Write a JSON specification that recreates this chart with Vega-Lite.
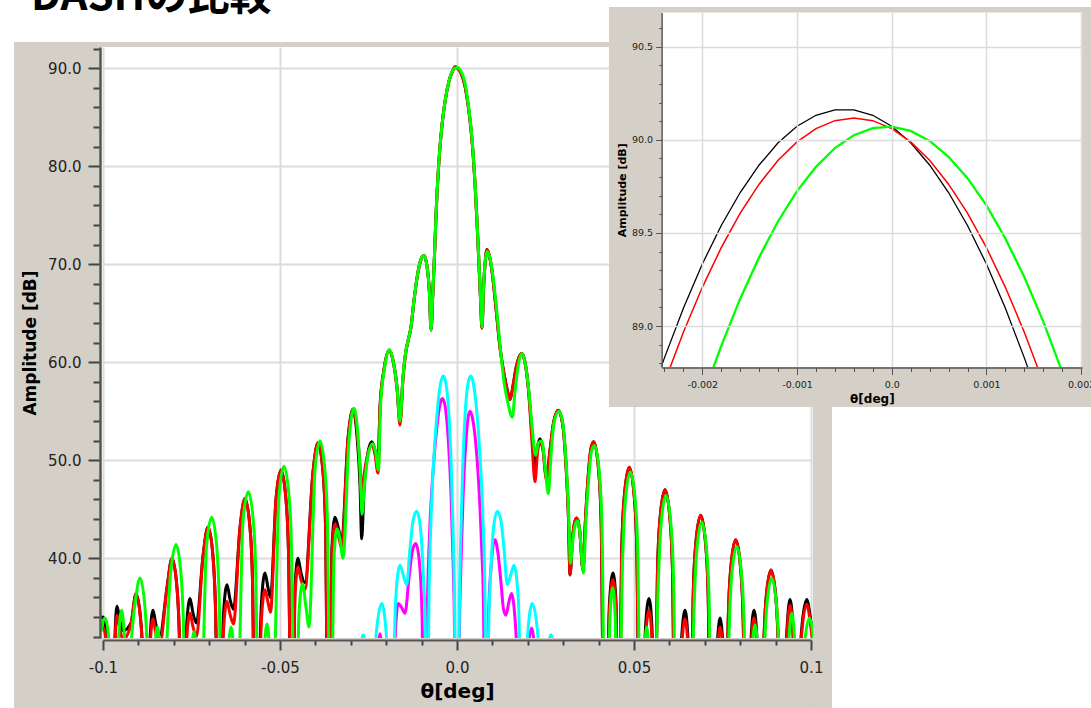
{
"$schema": "https://vega.github.io/schema/vega-lite/v6.json",
"width": 1091, "height": 708,
"autosize": {"type": "none"},
"padding": 0,
"background": "#ffffff",
"config": {"view": {"stroke": null}, "axis": {"labelFont": "DejaVu Sans", "titleFont": "DejaVu Sans"}},
"datasets": {
"mk": [{"x":-0.10056,"y":33.9},{"x":-0.1,"y":34},{"x":-0.09873,"y":31},{"x":-0.09788,"y":25.7},{"x":-0.09718,"y":15},{"x":-0.09661,"y":32.1},{"x":-0.09605,"y":35.1},{"x":-0.0952,"y":33.6},{"x":-0.09435,"y":32.6},{"x":-0.09209,"y":33.4},{"x":-0.09068,"y":36.4},{"x":-0.08927,"y":33.4},{"x":-0.08856,"y":28.1},{"x":-0.08771,"y":15},{"x":-0.08672,"y":31.7},{"x":-0.08588,"y":34.7},{"x":-0.08503,"y":33.2},{"x":-0.0839,"y":32.2},{"x":-0.08192,"y":37},{"x":-0.08051,"y":40},{"x":-0.0791,"y":37},{"x":-0.07839,"y":31.7},{"x":-0.07754,"y":15},{"x":-0.07641,"y":32.9},{"x":-0.07542,"y":35.9},{"x":-0.07458,"y":34.4},{"x":-0.07359,"y":33.4},{"x":-0.07175,"y":40.2},{"x":-0.07034,"y":43.2},{"x":-0.06893,"y":40.2},{"x":-0.06822,"y":34.9},{"x":-0.06723,"y":15},{"x":-0.06596,"y":34.3},{"x":-0.06497,"y":37.3},{"x":-0.06412,"y":35.8},{"x":-0.06314,"y":34.8},{"x":-0.0613,"y":43.1},{"x":-0.05989,"y":46.1},{"x":-0.05847,"y":43.1},{"x":-0.05777,"y":37.8},{"x":-0.05692,"y":15},{"x":-0.05523,"y":35.5},{"x":-0.05424,"y":38.5},{"x":-0.05339,"y":37},{"x":-0.05268,"y":36},{"x":-0.05113,"y":46},{"x":-0.04972,"y":49},{"x":-0.04831,"y":46},{"x":-0.0476,"y":40.7},{"x":-0.04661,"y":15},{"x":-0.04576,"y":37},{"x":-0.04492,"y":40},{"x":-0.04407,"y":38.5},{"x":-0.04294,"y":37.5},{"x":-0.04068,"y":48.8},{"x":-0.03927,"y":51.8},{"x":-0.03785,"y":48.8},{"x":-0.03715,"y":43.5},{"x":-0.0363,"y":15},{"x":-0.03531,"y":41.2},{"x":-0.03446,"y":44.2},{"x":-0.03347,"y":43},{"x":-0.03257,"y":41.7},{"x":-0.03079,"y":52.2},{"x":-0.02938,"y":55.2},{"x":-0.02825,"y":52.5},{"x":-0.0274,"y":47.5},{"x":-0.02692,"y":42},{"x":-0.02627,"y":47},{"x":-0.02528,"y":50.5},{"x":-0.0241,"y":51.9},{"x":-0.02316,"y":51},{"x":-0.02232,"y":49},{"x":-0.02175,"y":55.5},{"x":-0.02062,"y":59.3},{"x":-0.01921,"y":61.2},{"x":-0.01808,"y":60.2},{"x":-0.01695,"y":57.5},{"x":-0.0161,"y":54},{"x":-0.01525,"y":58.5},{"x":-0.01441,"y":61.2},{"x":-0.01376,"y":62.3},{"x":-0.01299,"y":63.6},{"x":-0.01215,"y":66.3},{"x":-0.01116,"y":68.9},{"x":-0.01017,"y":70.5},{"x":-0.00932,"y":70.9},{"x":-0.00847,"y":69.8},{"x":-0.00777,"y":67},{"x":-0.00734,"y":63.3},{"x":-0.00678,"y":67.5},{"x":-0.00636,"y":70.9},{"x":-0.00593,"y":75},{"x":-0.00537,"y":79},{"x":-0.0048,"y":82},{"x":-0.00424,"y":84.2},{"x":-0.00339,"y":86.6},{"x":-0.00226,"y":88.7},{"x":-0.00113,"y":89.8},{"x":-0.0005,"y":90.16},{"x":0,"y":90.07},{"x":0.00113,"y":89.5},{"x":0.00226,"y":88.2},{"x":0.00311,"y":86.3},{"x":0.00395,"y":83.8},{"x":0.00452,"y":81.4},{"x":0.00508,"y":78.3},{"x":0.00565,"y":74.3},{"x":0.00621,"y":70},{"x":0.00664,"y":66.5},{"x":0.00706,"y":63.5},{"x":0.00749,"y":67.5},{"x":0.00791,"y":70},{"x":0.00847,"y":71.5},{"x":0.00918,"y":70.8},{"x":0.00989,"y":69.3},{"x":0.01102,"y":65.5},{"x":0.01215,"y":61.5},{"x":0.01328,"y":58.8},{"x":0.01412,"y":57.3},{"x":0.01497,"y":56.2},{"x":0.01582,"y":57.6},{"x":0.01667,"y":59.4},{"x":0.01751,"y":60.5},{"x":0.01828,"y":60.9},{"x":0.01921,"y":60},{"x":0.0202,"y":57.2},{"x":0.02119,"y":52.8},{"x":0.02203,"y":49.5},{"x":0.02274,"y":51.4},{"x":0.02345,"y":52.2},{"x":0.02429,"y":51.2},{"x":0.02528,"y":48.2},{"x":0.02627,"y":51},{"x":0.02726,"y":53.8},{"x":0.02862,"y":55.1},{"x":0.0298,"y":53.8},{"x":0.03079,"y":49.5},{"x":0.0315,"y":44},{"x":0.03192,"y":38.3},{"x":0.03263,"y":42},{"x":0.03319,"y":43.6},{"x":0.03381,"y":44.1},{"x":0.03461,"y":43},{"x":0.03559,"y":38.8},{"x":0.0363,"y":44},{"x":0.03715,"y":48.8},{"x":0.03785,"y":51.2},{"x":0.03862,"y":51.9},{"x":0.04003,"y":48.9},{"x":0.04073,"y":43.6},{"x":0.04167,"y":15},{"x":0.04308,"y":35.5},{"x":0.04407,"y":38.5},{"x":0.04492,"y":35.5},{"x":0.04562,"y":15},{"x":0.04655,"y":41},{"x":0.04726,"y":46.3},{"x":0.04867,"y":49.3},{"x":0.05008,"y":46.3},{"x":0.05079,"y":41},{"x":0.0517,"y":15},{"x":0.05325,"y":32.9},{"x":0.05424,"y":35.9},{"x":0.05508,"y":32.9},{"x":0.05579,"y":15},{"x":0.05664,"y":38.7},{"x":0.05734,"y":44},{"x":0.05876,"y":47},{"x":0.06017,"y":44},{"x":0.06088,"y":38.7},{"x":0.06172,"y":15},{"x":0.06342,"y":31.7},{"x":0.06441,"y":34.7},{"x":0.06525,"y":31.7},{"x":0.06596,"y":15},{"x":0.06672,"y":36.1},{"x":0.06743,"y":41.4},{"x":0.06884,"y":44.4},{"x":0.07025,"y":41.4},{"x":0.07096,"y":36.1},{"x":0.07175,"y":15},{"x":0.07345,"y":30.9},{"x":0.07429,"y":33.9},{"x":0.07514,"y":30.9},{"x":0.07585,"y":15},{"x":0.07661,"y":33.6},{"x":0.07732,"y":38.9},{"x":0.07873,"y":41.9},{"x":0.08014,"y":38.9},{"x":0.08085,"y":33.6},{"x":0.08164,"y":15},{"x":0.08305,"y":31.7},{"x":0.0839,"y":34.7},{"x":0.08475,"y":31.7},{"x":0.08559,"y":15},{"x":0.08658,"y":30.5},{"x":0.08729,"y":35.8},{"x":0.0887,"y":38.8},{"x":0.09011,"y":35.8},{"x":0.09082,"y":30.5},{"x":0.09167,"y":15},{"x":0.09322,"y":32.8},{"x":0.09407,"y":35.8},{"x":0.09492,"y":32.8},{"x":0.09576,"y":15},{"x":0.09661,"y":27.5},{"x":0.09737,"y":32.8},{"x":0.09879,"y":35.8},{"x":0.09972,"y":34.2},{"x":0.10056,"y":31.5}],
"mr": [{"x":-0.10056,"y":32.8},{"x":-0.1,"y":33},{"x":-0.09873,"y":30},{"x":-0.09788,"y":24.7},{"x":-0.09718,"y":15},{"x":-0.09661,"y":31.2},{"x":-0.09605,"y":34.2},{"x":-0.0952,"y":32.7},{"x":-0.09435,"y":31.7},{"x":-0.09209,"y":33.3},{"x":-0.09068,"y":36.3},{"x":-0.08927,"y":33.3},{"x":-0.08856,"y":28},{"x":-0.08771,"y":15},{"x":-0.08672,"y":30.8},{"x":-0.08588,"y":33.8},{"x":-0.08503,"y":32.3},{"x":-0.0839,"y":31.3},{"x":-0.08192,"y":37},{"x":-0.08051,"y":40},{"x":-0.0791,"y":37},{"x":-0.07839,"y":31.7},{"x":-0.07754,"y":15},{"x":-0.07641,"y":31.4},{"x":-0.07542,"y":34.4},{"x":-0.07458,"y":33},{"x":-0.07359,"y":32},{"x":-0.07175,"y":40.2},{"x":-0.07034,"y":43.2},{"x":-0.06893,"y":40.2},{"x":-0.06822,"y":34.9},{"x":-0.06723,"y":15},{"x":-0.06596,"y":32.6},{"x":-0.06497,"y":35.6},{"x":-0.06412,"y":34.3},{"x":-0.06314,"y":33.3},{"x":-0.0613,"y":43.1},{"x":-0.05989,"y":46.1},{"x":-0.05847,"y":43.1},{"x":-0.05777,"y":37.8},{"x":-0.05692,"y":15},{"x":-0.05523,"y":33.8},{"x":-0.05424,"y":36.8},{"x":-0.05339,"y":35.5},{"x":-0.05268,"y":34.5},{"x":-0.05113,"y":46},{"x":-0.04972,"y":49},{"x":-0.04831,"y":46},{"x":-0.0476,"y":40.7},{"x":-0.04661,"y":15},{"x":-0.04576,"y":36.1},{"x":-0.04492,"y":39.1},{"x":-0.04407,"y":37.8},{"x":-0.04294,"y":36.8},{"x":-0.04068,"y":48.8},{"x":-0.03927,"y":51.8},{"x":-0.03785,"y":48.8},{"x":-0.03715,"y":43.5},{"x":-0.0363,"y":15},{"x":-0.03531,"y":40.5},{"x":-0.03446,"y":43.5},{"x":-0.03347,"y":42.3},{"x":-0.03257,"y":41},{"x":-0.03079,"y":52.2},{"x":-0.02938,"y":55.2},{"x":-0.02825,"y":53},{"x":-0.0274,"y":49.5},{"x":-0.02692,"y":46.3},{"x":-0.02627,"y":48.5},{"x":-0.02528,"y":50.5},{"x":-0.0241,"y":51.5},{"x":-0.02316,"y":50.6},{"x":-0.02232,"y":48.7},{"x":-0.02175,"y":55.3},{"x":-0.02062,"y":59.2},{"x":-0.01921,"y":61.2},{"x":-0.01808,"y":60.2},{"x":-0.01695,"y":57.3},{"x":-0.0161,"y":53.6},{"x":-0.01525,"y":58.3},{"x":-0.01441,"y":61.1},{"x":-0.01376,"y":62.3},{"x":-0.01299,"y":63.6},{"x":-0.01215,"y":66.3},{"x":-0.01116,"y":68.9},{"x":-0.01017,"y":70.5},{"x":-0.00932,"y":70.9},{"x":-0.00847,"y":69.8},{"x":-0.00777,"y":67},{"x":-0.00734,"y":63.3},{"x":-0.00678,"y":67.5},{"x":-0.00636,"y":70.9},{"x":-0.00593,"y":75},{"x":-0.00537,"y":79},{"x":-0.0048,"y":82},{"x":-0.00424,"y":84.2},{"x":-0.00339,"y":86.6},{"x":-0.00226,"y":88.7},{"x":-0.00113,"y":89.8},{"x":-0.0005,"y":90.12},{"x":0,"y":90.06},{"x":0.00113,"y":89.5},{"x":0.00226,"y":88.2},{"x":0.00311,"y":86.3},{"x":0.00395,"y":83.8},{"x":0.00452,"y":81.4},{"x":0.00508,"y":78.3},{"x":0.00565,"y":74.3},{"x":0.00621,"y":70},{"x":0.00664,"y":66.5},{"x":0.00706,"y":63.5},{"x":0.00749,"y":67.5},{"x":0.00791,"y":70},{"x":0.00847,"y":71.5},{"x":0.00918,"y":70.8},{"x":0.00989,"y":69.3},{"x":0.01102,"y":65.5},{"x":0.01215,"y":61.5},{"x":0.01328,"y":58.8},{"x":0.01412,"y":57.3},{"x":0.01497,"y":56.2},{"x":0.01582,"y":57.6},{"x":0.01667,"y":59.4},{"x":0.01751,"y":60.5},{"x":0.01828,"y":60.9},{"x":0.01921,"y":60},{"x":0.0202,"y":57.2},{"x":0.02119,"y":51.8},{"x":0.02203,"y":47.8},{"x":0.02274,"y":50.8},{"x":0.02345,"y":51.9},{"x":0.02429,"y":51},{"x":0.02528,"y":48},{"x":0.02627,"y":51},{"x":0.02726,"y":53.8},{"x":0.02862,"y":55.1},{"x":0.0298,"y":53.8},{"x":0.03079,"y":49.5},{"x":0.0315,"y":44},{"x":0.03192,"y":38.3},{"x":0.03263,"y":42},{"x":0.03319,"y":43.6},{"x":0.03381,"y":44.1},{"x":0.03461,"y":43},{"x":0.03559,"y":38.8},{"x":0.0363,"y":44},{"x":0.03715,"y":48.8},{"x":0.03785,"y":51.2},{"x":0.03862,"y":51.9},{"x":0.04003,"y":48.9},{"x":0.04073,"y":43.6},{"x":0.04167,"y":15},{"x":0.04308,"y":34.8},{"x":0.04407,"y":37.8},{"x":0.04492,"y":34.8},{"x":0.04562,"y":15},{"x":0.04655,"y":41},{"x":0.04726,"y":46.3},{"x":0.04867,"y":49.3},{"x":0.05008,"y":46.3},{"x":0.05079,"y":41},{"x":0.0517,"y":15},{"x":0.05325,"y":31.7},{"x":0.05424,"y":34.7},{"x":0.05508,"y":31.7},{"x":0.05579,"y":15},{"x":0.05664,"y":38.7},{"x":0.05734,"y":44},{"x":0.05876,"y":47},{"x":0.06017,"y":44},{"x":0.06088,"y":38.7},{"x":0.06172,"y":15},{"x":0.06342,"y":30.8},{"x":0.06441,"y":33.8},{"x":0.06525,"y":30.8},{"x":0.06596,"y":15},{"x":0.06672,"y":36.1},{"x":0.06743,"y":41.4},{"x":0.06884,"y":44.4},{"x":0.07025,"y":41.4},{"x":0.07096,"y":36.1},{"x":0.07175,"y":15},{"x":0.07345,"y":30},{"x":0.07429,"y":33},{"x":0.07514,"y":30},{"x":0.07585,"y":15},{"x":0.07661,"y":33.6},{"x":0.07732,"y":38.9},{"x":0.07873,"y":41.9},{"x":0.08014,"y":38.9},{"x":0.08085,"y":33.6},{"x":0.08164,"y":15},{"x":0.08305,"y":30.9},{"x":0.0839,"y":33.9},{"x":0.08475,"y":30.9},{"x":0.08559,"y":15},{"x":0.08658,"y":30.5},{"x":0.08729,"y":35.8},{"x":0.0887,"y":38.8},{"x":0.09011,"y":35.8},{"x":0.09082,"y":30.5},{"x":0.09167,"y":15},{"x":0.09322,"y":32.2},{"x":0.09407,"y":35.2},{"x":0.09492,"y":32.2},{"x":0.09576,"y":15},{"x":0.09661,"y":27},{"x":0.09737,"y":32.3},{"x":0.09879,"y":35.3},{"x":0.09972,"y":33.7},{"x":0.10056,"y":31}],
"mg": [{"x":-0.10056,"y":32.5},{"x":-0.09944,"y":33.9},{"x":-0.09816,"y":30.9},{"x":-0.09746,"y":25.6},{"x":-0.09675,"y":15},{"x":-0.09562,"y":31.7},{"x":-0.09472,"y":34.7},{"x":-0.09393,"y":32},{"x":-0.09322,"y":28},{"x":-0.0911,"y":35},{"x":-0.08955,"y":38},{"x":-0.08814,"y":35},{"x":-0.08743,"y":29.7},{"x":-0.08658,"y":15},{"x":-0.08545,"y":30},{"x":-0.0846,"y":33},{"x":-0.08376,"y":30},{"x":-0.08305,"y":26},{"x":-0.08093,"y":38.4},{"x":-0.07938,"y":41.4},{"x":-0.07797,"y":38.4},{"x":-0.07726,"y":33.1},{"x":-0.07641,"y":15},{"x":-0.07514,"y":29.5},{"x":-0.07429,"y":32.5},{"x":-0.07345,"y":29.5},{"x":-0.0726,"y":20},{"x":-0.07076,"y":41.2},{"x":-0.06929,"y":44.2},{"x":-0.06788,"y":41.2},{"x":-0.06718,"y":35.9},{"x":-0.06624,"y":15},{"x":-0.06469,"y":30},{"x":-0.06384,"y":33},{"x":-0.06299,"y":30},{"x":-0.06215,"y":22},{"x":-0.06045,"y":43.8},{"x":-0.05895,"y":46.8},{"x":-0.05754,"y":43.8},{"x":-0.05684,"y":38.5},{"x":-0.05593,"y":15},{"x":-0.05452,"y":30.3},{"x":-0.05367,"y":33.3},{"x":-0.05282,"y":30.3},{"x":-0.05198,"y":25},{"x":-0.05028,"y":46.4},{"x":-0.04887,"y":49.4},{"x":-0.04746,"y":46.4},{"x":-0.04675,"y":41.1},{"x":-0.04576,"y":15},{"x":-0.04463,"y":34.4},{"x":-0.04364,"y":37.4},{"x":-0.04266,"y":35},{"x":-0.04181,"y":33},{"x":-0.04011,"y":49},{"x":-0.0387,"y":52},{"x":-0.03729,"y":48.9},{"x":-0.03658,"y":43.6},{"x":-0.03573,"y":15},{"x":-0.03475,"y":40},{"x":-0.0339,"y":43},{"x":-0.03305,"y":42},{"x":-0.0322,"y":40},{"x":-0.03051,"y":52},{"x":-0.0291,"y":55.3},{"x":-0.02797,"y":52.5},{"x":-0.02726,"y":48},{"x":-0.02684,"y":44.5},{"x":-0.02613,"y":47.5},{"x":-0.02514,"y":50.5},{"x":-0.02387,"y":51.7},{"x":-0.02302,"y":50.9},{"x":-0.02218,"y":49},{"x":-0.02161,"y":55.5},{"x":-0.02048,"y":59.4},{"x":-0.01907,"y":61.3},{"x":-0.01808,"y":60.2},{"x":-0.01695,"y":57.5},{"x":-0.0161,"y":54},{"x":-0.01525,"y":58.5},{"x":-0.01441,"y":61.2},{"x":-0.01376,"y":62.3},{"x":-0.01299,"y":63.6},{"x":-0.01215,"y":66.3},{"x":-0.01116,"y":68.9},{"x":-0.01017,"y":70.5},{"x":-0.00932,"y":70.9},{"x":-0.00847,"y":69.8},{"x":-0.00777,"y":67},{"x":-0.00734,"y":63.3},{"x":-0.00678,"y":67.5},{"x":-0.00636,"y":70.9},{"x":-0.00593,"y":75},{"x":-0.00537,"y":79},{"x":-0.0048,"y":82},{"x":-0.00424,"y":84.2},{"x":-0.00339,"y":86.6},{"x":-0.00226,"y":88.7},{"x":-0.00113,"y":89.8},{"x":-0.0005,"y":90.03},{"x":0,"y":90.07},{"x":0.00113,"y":89.7},{"x":0.00226,"y":88.5},{"x":0.00311,"y":86.5},{"x":0.00395,"y":84},{"x":0.00452,"y":81.6},{"x":0.00508,"y":78.5},{"x":0.00565,"y":74.5},{"x":0.00621,"y":70.2},{"x":0.00664,"y":66.7},{"x":0.00706,"y":63.6},{"x":0.00749,"y":67.5},{"x":0.00791,"y":70},{"x":0.00847,"y":71.3},{"x":0.00918,"y":70.8},{"x":0.00989,"y":69.5},{"x":0.01102,"y":66},{"x":0.01215,"y":61.8},{"x":0.01328,"y":58},{"x":0.01441,"y":55.8},{"x":0.01562,"y":54.4},{"x":0.01638,"y":57},{"x":0.01723,"y":59.5},{"x":0.01828,"y":60.9},{"x":0.01921,"y":60},{"x":0.0202,"y":57.4},{"x":0.02119,"y":53.5},{"x":0.02218,"y":50.5},{"x":0.02302,"y":51.8},{"x":0.02393,"y":52},{"x":0.02486,"y":49.5},{"x":0.02579,"y":46.6},{"x":0.02655,"y":50.5},{"x":0.0274,"y":53.8},{"x":0.02876,"y":55},{"x":0.0298,"y":54},{"x":0.03079,"y":50},{"x":0.0315,"y":45},{"x":0.03206,"y":39.5},{"x":0.03277,"y":42},{"x":0.03347,"y":43.5},{"x":0.03404,"y":43.8},{"x":0.03475,"y":42.5},{"x":0.03568,"y":38.5},{"x":0.03644,"y":44},{"x":0.03729,"y":48.5},{"x":0.03799,"y":50.9},{"x":0.03884,"y":51.5},{"x":0.04025,"y":48.5},{"x":0.04096,"y":43.2},{"x":0.04195,"y":15},{"x":0.04322,"y":34},{"x":0.04398,"y":37},{"x":0.04469,"y":34},{"x":0.04534,"y":15},{"x":0.04684,"y":40.5},{"x":0.04754,"y":45.8},{"x":0.04895,"y":48.8},{"x":0.05037,"y":45.8},{"x":0.05107,"y":40.5},{"x":0.05198,"y":15},{"x":0.05297,"y":30},{"x":0.05359,"y":33},{"x":0.05424,"y":30},{"x":0.05494,"y":15},{"x":0.05692,"y":38.1},{"x":0.05763,"y":43.4},{"x":0.05904,"y":46.4},{"x":0.06045,"y":43.4},{"x":0.06116,"y":38.1},{"x":0.06201,"y":15},{"x":0.06299,"y":25},{"x":0.06384,"y":31.5},{"x":0.06469,"y":25},{"x":0.06554,"y":15},{"x":0.06701,"y":35.4},{"x":0.06771,"y":40.7},{"x":0.06912,"y":43.7},{"x":0.07054,"y":40.7},{"x":0.07124,"y":35.4},{"x":0.07203,"y":15},{"x":0.07316,"y":25},{"x":0.07401,"y":31},{"x":0.07486,"y":25},{"x":0.07599,"y":15},{"x":0.07689,"y":32.9},{"x":0.0776,"y":38.2},{"x":0.07901,"y":41.2},{"x":0.08042,"y":38.2},{"x":0.08113,"y":32.9},{"x":0.08192,"y":15},{"x":0.08333,"y":30.2},{"x":0.08418,"y":33.2},{"x":0.08503,"y":30.2},{"x":0.08588,"y":15},{"x":0.08678,"y":29.7},{"x":0.08749,"y":35},{"x":0.0889,"y":38},{"x":0.09031,"y":35},{"x":0.09102,"y":29.7},{"x":0.09195,"y":15},{"x":0.0937,"y":31.4},{"x":0.09455,"y":34.4},{"x":0.0954,"y":31.4},{"x":0.09619,"y":15},{"x":0.09746,"y":26.6},{"x":0.09811,"y":30.9},{"x":0.09952,"y":33.9},{"x":0.10028,"y":33},{"x":0.10085,"y":31}],
"mm": [{"x":-0.02401,"y":15},{"x":-0.02288,"y":27},{"x":-0.02175,"y":32.3},{"x":-0.02062,"y":27},{"x":-0.01949,"y":15},{"x":-0.01836,"y":15},{"x":-0.01751,"y":31.5},{"x":-0.01658,"y":35.4},{"x":-0.01568,"y":35},{"x":-0.01469,"y":34.4},{"x":-0.01356,"y":38},{"x":-0.01257,"y":40.8},{"x":-0.01167,"y":41.5},{"x":-0.01073,"y":40},{"x":-0.00989,"y":34.5},{"x":-0.00918,"y":15},{"x":-0.00833,"y":36},{"x":-0.00763,"y":43.5},{"x":-0.00664,"y":49.5},{"x":-0.00565,"y":53.5},{"x":-0.0048,"y":55.7},{"x":-0.00415,"y":56.3},{"x":-0.00339,"y":55.6},{"x":-0.00254,"y":52.5},{"x":-0.00169,"y":46.5},{"x":-0.00113,"y":40},{"x":-0.00071,"y":33},{"x":-0.00028,"y":15},{"x":0.00028,"y":15},{"x":0.00071,"y":33},{"x":0.00113,"y":39.5},{"x":0.00169,"y":46},{"x":0.00254,"y":52},{"x":0.00311,"y":54.3},{"x":0.00367,"y":55},{"x":0.00438,"y":54.3},{"x":0.00523,"y":52},{"x":0.00607,"y":48},{"x":0.00692,"y":41.5},{"x":0.00749,"y":35},{"x":0.00805,"y":15},{"x":0.0089,"y":34},{"x":0.0096,"y":39},{"x":0.01017,"y":41.2},{"x":0.01073,"y":41.9},{"x":0.01158,"y":40.5},{"x":0.01243,"y":37.5},{"x":0.01314,"y":34.8},{"x":0.01384,"y":34.2},{"x":0.01469,"y":35.6},{"x":0.01545,"y":36.4},{"x":0.01624,"y":34.5},{"x":0.01695,"y":30},{"x":0.0178,"y":15},{"x":0.01949,"y":28},{"x":0.0211,"y":32.9},{"x":0.02232,"y":28},{"x":0.02345,"y":15}],
"mc": [{"x":-0.02881,"y":15},{"x":-0.02768,"y":29},{"x":-0.02647,"y":32.2},{"x":-0.02542,"y":29},{"x":-0.02429,"y":15},{"x":-0.02288,"y":32},{"x":-0.02127,"y":35.4},{"x":-0.01992,"y":32},{"x":-0.01864,"y":15},{"x":-0.01737,"y":35.5},{"x":-0.0161,"y":39.3},{"x":-0.01511,"y":38.2},{"x":-0.01421,"y":37.3},{"x":-0.01328,"y":41},{"x":-0.01243,"y":43.8},{"x":-0.01138,"y":44.8},{"x":-0.01045,"y":43.5},{"x":-0.0096,"y":39},{"x":-0.0089,"y":32},{"x":-0.00847,"y":15},{"x":-0.00791,"y":36},{"x":-0.00734,"y":44},{"x":-0.0065,"y":50.5},{"x":-0.00551,"y":55.3},{"x":-0.00466,"y":57.8},{"x":-0.00387,"y":58.6},{"x":-0.00311,"y":57.8},{"x":-0.00226,"y":54.5},{"x":-0.00155,"y":48.5},{"x":-0.00105,"y":42},{"x":-0.00062,"y":33},{"x":-0.00028,"y":15},{"x":0.00028,"y":15},{"x":0.00062,"y":33},{"x":0.00105,"y":42},{"x":0.00155,"y":48.5},{"x":0.00226,"y":54.5},{"x":0.00311,"y":57.8},{"x":0.00387,"y":58.6},{"x":0.00466,"y":57.8},{"x":0.00551,"y":55.3},{"x":0.0065,"y":50.5},{"x":0.00734,"y":44},{"x":0.00791,"y":36},{"x":0.00847,"y":15},{"x":0.0089,"y":32},{"x":0.0096,"y":39},{"x":0.01045,"y":43.5},{"x":0.01138,"y":44.8},{"x":0.01243,"y":43.8},{"x":0.01328,"y":41},{"x":0.01421,"y":37.3},{"x":0.01511,"y":38.2},{"x":0.0161,"y":39.3},{"x":0.01737,"y":35.5},{"x":0.01864,"y":15},{"x":0.01992,"y":32},{"x":0.02127,"y":35.4},{"x":0.02288,"y":32},{"x":0.02429,"y":15},{"x":0.02542,"y":29},{"x":0.02647,"y":32.2},{"x":0.02768,"y":29},{"x":0.02881,"y":15}],
"ik": [{"x":-0.00256,"y":88.6},{"x":-0.0024,"y":88.829},{"x":-0.0022,"y":89.096},{"x":-0.002,"y":89.333},{"x":-0.0018,"y":89.54},{"x":-0.0016,"y":89.717},{"x":-0.0014,"y":89.865},{"x":-0.0012,"y":89.984},{"x":-0.001,"y":90.073},{"x":-0.0008,"y":90.132},{"x":-0.0006,"y":90.161},{"x":-0.0004,"y":90.161},{"x":-0.0002,"y":90.132},{"x":0,"y":90.073},{"x":0.0002,"y":89.984},{"x":0.0004,"y":89.865},{"x":0.0006,"y":89.717},{"x":0.0008,"y":89.54},{"x":0.001,"y":89.333},{"x":0.0012,"y":89.096},{"x":0.0014,"y":88.829},{"x":0.00156,"y":88.6}],
"ir": [{"x":-0.00247,"y":88.6},{"x":-0.0024,"y":88.697},{"x":-0.0022,"y":88.967},{"x":-0.002,"y":89.208},{"x":-0.0018,"y":89.421},{"x":-0.0016,"y":89.606},{"x":-0.0014,"y":89.762},{"x":-0.0012,"y":89.89},{"x":-0.001,"y":89.989},{"x":-0.0008,"y":90.06},{"x":-0.0006,"y":90.103},{"x":-0.0004,"y":90.117},{"x":-0.0002,"y":90.103},{"x":0,"y":90.06},{"x":0.0002,"y":89.989},{"x":0.0004,"y":89.89},{"x":0.0006,"y":89.762},{"x":0.0008,"y":89.606},{"x":0.001,"y":89.421},{"x":0.0012,"y":89.208},{"x":0.0014,"y":88.967},{"x":0.0016,"y":88.697},{"x":0.00167,"y":88.6}],
"ig": [{"x":-0.00201,"y":88.6},{"x":-0.0018,"y":88.893},{"x":-0.0016,"y":89.147},{"x":-0.0014,"y":89.37},{"x":-0.0012,"y":89.563},{"x":-0.001,"y":89.725},{"x":-0.0008,"y":89.855},{"x":-0.0006,"y":89.956},{"x":-0.0004,"y":90.025},{"x":-0.0002,"y":90.063},{"x":0,"y":90.071},{"x":0.0002,"y":90.048},{"x":0.0004,"y":89.994},{"x":0.0006,"y":89.909},{"x":0.0008,"y":89.794},{"x":0.001,"y":89.648},{"x":0.0012,"y":89.47},{"x":0.0014,"y":89.263},{"x":0.0016,"y":89.024},{"x":0.0018,"y":88.754},{"x":0.0019,"y":88.6}]
},
"layer": [
{
"layer": [
{"data": {"name": "mk"}, "mark": {"type": "line", "color": "#000000", "strokeWidth": 3, "interpolate": "monotone"},
 "encoding": {
  "x": {"field": "x", "type": "quantitative", "scale": {"domain": [-0.1, 0.1], "range": [103, 811], "nice": false, "zero": false},
        "axis": {"orient": "top", "values": [-0.1, -0.05, 0, 0.05, 0.1], "grid": true, "gridColor": "#dcdcdc", "gridWidth": 2, "labels": false, "ticks": false, "domain": false, "title": null, "zindex": 0}},
  "y": {"field": "y", "type": "quantitative", "scale": {"domain": [31.867, 92.173], "range": [638, 47], "nice": false, "zero": false},
        "axis": {"orient": "left", "values": [40, 50, 60, 70, 80, 90], "grid": true, "gridColor": "#dcdcdc", "gridWidth": 2, "labels": false, "ticks": false, "domain": false, "title": null, "zindex": 0}}}},
{"data": {"name": "mr"}, "mark": {"type": "line", "color": "#ff0000", "strokeWidth": 3, "interpolate": "monotone"},
 "encoding": {"x": {"field": "x", "type": "quantitative", "axis": null}, "y": {"field": "y", "type": "quantitative", "axis": null}}},
{"data": {"name": "mg"}, "mark": {"type": "line", "color": "#00ff00", "strokeWidth": 3, "interpolate": "monotone"},
 "encoding": {"x": {"field": "x", "type": "quantitative", "axis": null}, "y": {"field": "y", "type": "quantitative", "axis": null}}},
{"data": {"name": "mm"}, "mark": {"type": "line", "color": "#ff00ff", "strokeWidth": 3, "interpolate": "monotone"},
 "encoding": {"x": {"field": "x", "type": "quantitative", "axis": null}, "y": {"field": "y", "type": "quantitative", "axis": null}}},
{"data": {"name": "mc"}, "mark": {"type": "line", "color": "#00ffff", "strokeWidth": 3, "interpolate": "monotone"},
 "encoding": {"x": {"field": "x", "type": "quantitative", "axis": null}, "y": {"field": "y", "type": "quantitative", "axis": null}}},
{"data": {"values": [{}]}, "mark": {"type": "rect", "color": "#d4d0c8"},
 "encoding": {
  "x": {"datum": -0.12514, "type": "quantitative",
        "axis": {"orient": "bottom", "offset": -68, "values": [-0.1,-0.09,-0.08,-0.07,-0.06,-0.05,-0.04,-0.03,-0.02,-0.01,0,0.01,0.02,0.03,0.04,0.05,0.06,0.07,0.08,0.09,0.1],
                 "grid": false, "domainColor": "#555555", "domainWidth": 2, "tickColor": "#444444", "tickWidth": 2,
                 "tickSize": {"condition": {"test": "abs(datum.value*20 - round(datum.value*20)) < 0.001", "value": 10}, "value": 5},
                 "labelExpr": "abs(datum.value*20 - round(datum.value*20)) < 0.001 ? (abs(datum.value) < 1e-9 ? '0.0' : '' + datum.value) : ''",
                 "labelFontSize": 15, "labelColor": "#222222", "labelPadding": 10, "labelFlush": false, "labelOverlap": false,
                 "title": "θ[deg]", "titleFontSize": 20, "titleFontWeight": "bold", "titleColor": "#000000", "titlePadding": 6, "zindex": 1}},
  "x2": {"datum": 0.10593},
  "y": {"datum": 92.173, "type": "quantitative",
        "axis": {"orient": "left", "offset": -100, "values": [32,34,36,38,40,42,44,46,48,50,52,54,56,58,60,62,64,66,68,70,72,74,76,78,80,82,84,86,88,90,92],
                 "grid": false, "domainColor": "#555555", "domainWidth": 2.5, "tickColor": "#444444", "tickWidth": 2,
                 "tickSize": {"condition": {"test": "datum.value % 10 == 0", "value": 12}, "value": 7},
                 "labelExpr": "datum.value % 10 == 0 ? format(datum.value, '.1f') : ''",
                 "labelFontSize": 15, "labelColor": "#222222", "labelPadding": 7, "labelOverlap": false,
                 "title": "Amplitude [dB]", "titleFontSize": 17, "titleFontWeight": "bold", "titleColor": "#000000", "titlePadding": 8, "zindex": 1}},
  "y2": {"datum": 92.683}}},
{"data": {"values": [{}]}, "mark": {"type": "rect", "color": "#d4d0c8"},
 "encoding": {"x": {"datum": -0.12514, "type": "quantitative", "axis": null}, "x2": {"datum": 0.10593}, "y": {"datum": 24.724, "type": "quantitative", "axis": null}, "y2": {"datum": 31.867}}},
{"data": {"values": [{}]}, "mark": {"type": "rect", "color": "#d4d0c8"},
 "encoding": {"x": {"datum": -0.12514, "type": "quantitative", "axis": null}, "x2": {"datum": -0.10056}, "y": {"datum": 24.724, "type": "quantitative", "axis": null}, "y2": {"datum": 92.683}}},
{"data": {"values": [{}]}, "mark": {"type": "rect", "color": "#d4d0c8"},
 "encoding": {"x": {"datum": 0.10056, "type": "quantitative", "axis": null}, "x2": {"datum": 0.10593}, "y": {"datum": 24.724, "type": "quantitative", "axis": null}, "y2": {"datum": 92.683}}},
{"data": {"values": [{}]}, "mark": {"type": "text", "text": "DASHの比較", "font": "Noto Sans CJK JP", "fontSize": 42, "fontWeight": "bold", "align": "left", "baseline": "alphabetic", "color": "#000000"},
 "encoding": {"x": {"datum": -0.12034, "type": "quantitative", "axis": null}, "y": {"datum": 95.95, "type": "quantitative", "axis": null}}}
],
"resolve": {"axis": {"x": "independent", "y": "independent"}}
},
{
"layer": [
{"data": {"values": [{}]}, "mark": {"type": "rect", "color": "#ffffff"},
 "encoding": {
  "x": {"datum": -0.00243, "type": "quantitative", "scale": {"domain": [-0.00243, 0.00201], "range": [661.6, 1082.1], "nice": false, "zero": false}, "axis": null},
  "x2": {"datum": 0.00201},
  "y": {"datum": 88.78, "type": "quantitative", "scale": {"domain": [88.78, 90.684], "range": [367, 12.5], "nice": false, "zero": false}, "axis": null},
  "y2": {"datum": 90.684}}},
{"data": {"name": "ik"}, "mark": {"type": "line", "color": "#000000", "strokeWidth": 1.3},
 "encoding": {
  "x": {"field": "x", "type": "quantitative", "axis": {"orient": "top", "values": [-0.002, -0.001, 0, 0.001, 0.002], "grid": true, "gridColor": "#dcdcdc", "gridWidth": 1.5, "labels": false, "ticks": false, "domain": false, "title": null, "zindex": 1}},
  "y": {"field": "y", "type": "quantitative", "axis": {"orient": "left", "values": [89, 89.5, 90, 90.5], "grid": true, "gridColor": "#dcdcdc", "gridWidth": 1.5, "labels": false, "ticks": false, "domain": false, "title": null, "zindex": 1}}}},
{"data": {"name": "ir"}, "mark": {"type": "line", "color": "#ff0000", "strokeWidth": 1.5},
 "encoding": {"x": {"field": "x", "type": "quantitative", "axis": null}, "y": {"field": "y", "type": "quantitative", "axis": null}}},
{"data": {"name": "ig"}, "mark": {"type": "line", "color": "#00ff00", "strokeWidth": 2.3},
 "encoding": {"x": {"field": "x", "type": "quantitative", "axis": null}, "y": {"field": "y", "type": "quantitative", "axis": null}}},
{"data": {"values": [{}]}, "mark": {"type": "rect", "color": "#d4d0c8"},
 "encoding": {
  "x": {"datum": -0.002985, "type": "quantitative",
        "axis": {"orient": "bottom", "offset": -340.5, "values": [-0.0024,-0.0022,-0.002,-0.0018,-0.0016,-0.0014,-0.0012,-0.001,-0.0008,-0.0006,-0.0004,-0.0002,0,0.0002,0.0004,0.0006,0.0008,0.001,0.0012,0.0014,0.0016,0.0018,0.002],
                 "grid": false, "domainColor": "#555555", "domainWidth": 1.5, "tickColor": "#555555", "tickWidth": 1,
                 "tickSize": {"condition": {"test": "abs(datum.value*1000 - round(datum.value*1000)) < 0.001", "value": 7}, "value": 4},
                 "labelExpr": "abs(datum.value*1000 - round(datum.value*1000)) < 0.001 ? (abs(datum.value) < 1e-12 ? '0.0' : '' + datum.value) : ''",
                 "labelFontSize": 9.5, "labelColor": "#222222", "labelPadding": 5, "labelFlush": false, "labelOverlap": false,
                 "title": "θ[deg]", "titleFontSize": 12, "titleFontWeight": "bold", "titleColor": "#000000", "titlePadding": 4, "zindex": 1}},
  "x2": {"datum": 0.0022},
  "y": {"datum": 90.684, "type": "quantitative",
        "axis": {"orient": "left", "offset": -661.6, "values": [88.8,88.9,89,89.1,89.2,89.3,89.4,89.5,89.6,89.7,89.8,89.9,90,90.1,90.2,90.3,90.4,90.5,90.6],
                 "grid": false, "domainColor": "#555555", "domainWidth": 1.5, "tickColor": "#555555", "tickWidth": 1,
                 "tickSize": {"condition": {"test": "abs(datum.value*2 - round(datum.value*2)) < 0.001", "value": 6}, "value": 3},
                 "labelExpr": "abs(datum.value*2 - round(datum.value*2)) < 0.001 ? format(datum.value, '.1f') : ''",
                 "labelFontSize": 9.5, "labelColor": "#222222", "labelPadding": 3, "labelOverlap": false,
                 "title": "Amplitude [dB]", "titleFontSize": 11, "titleFontWeight": "bold", "titleColor": "#000000", "titlePadding": 4, "zindex": 1}},
  "y2": {"datum": 90.7135}}},
{"data": {"values": [{}]}, "mark": {"type": "rect", "color": "#d4d0c8"},
 "encoding": {"x": {"datum": -0.002985, "type": "quantitative", "axis": null}, "x2": {"datum": 0.0022}, "y": {"datum": 88.565, "type": "quantitative", "axis": null}, "y2": {"datum": 88.78}}},
{"data": {"values": [{}]}, "mark": {"type": "rect", "color": "#d4d0c8"},
 "encoding": {"x": {"datum": -0.002985, "type": "quantitative", "axis": null}, "x2": {"datum": -0.00243}, "y": {"datum": 88.565, "type": "quantitative", "axis": null}, "y2": {"datum": 90.7135}}},
{"data": {"values": [{}]}, "mark": {"type": "rect", "color": "#d4d0c8"},
 "encoding": {"x": {"datum": 0.00201, "type": "quantitative", "axis": null}, "x2": {"datum": 0.0022}, "y": {"datum": 88.565, "type": "quantitative", "axis": null}, "y2": {"datum": 90.7135}}}
],
"resolve": {"axis": {"x": "independent", "y": "independent"}}
}
],
"resolve": {"scale": {"x": "independent", "y": "independent"}, "axis": {"x": "independent", "y": "independent"}}
}
